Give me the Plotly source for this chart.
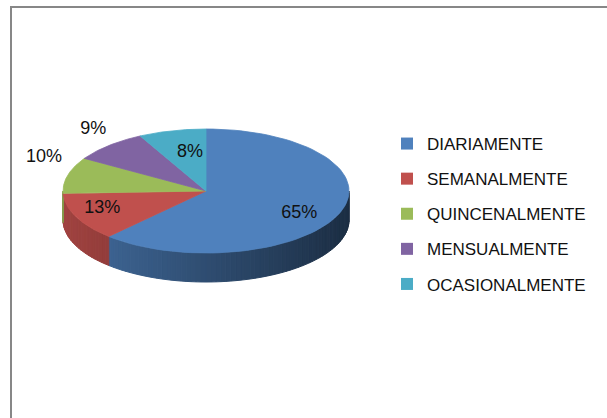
import numpy as np
import plotly.graph_objects as go

# ---- data ----
categories = ["DIARIAMENTE", "SEMANALMENTE", "QUINCENALMENTE", "MENSUALMENTE", "OCASIONALMENTE"]
values = [65, 13, 10, 9, 8]          # shown as percentages
labels = ["65%", "13%", "10%", "9%", "8%"]

# ---- style ----
colors = ["#4f81bd", "#c0504d", "#9bbb59", "#8064a2", "#4bacc6"]
W, H = 607, 418
cx, cy, rx, ry, depth = 206, 191, 143, 62, 29
label_r = [0.70, 0.80, 1.17, 1.16, 0.47]
label_dy = [7, -3, -15, -9, -10]
FONT = "Liberation Sans"


def hex_rgb(h):
    h = h.lstrip("#")
    return tuple(int(h[i:i + 2], 16) for i in (0, 2, 4))


def shade(h, f):
    r, g, b = hex_rgb(h)
    return "rgb(%d,%d,%d)" % (r * f, g * f, b * f)


def pt(theta_deg, r=1.0, dz=0.0):
    t = np.radians(theta_deg)
    return cx + rx * r * np.sin(t), cy - ry * r * np.cos(t) + dz


total = float(sum(values))
bounds = np.concatenate([[0], np.cumsum(values)]) / total * 360.0

fig = go.Figure()

# side walls (front half only: theta in [90, 270])
step = 2.0
for i, c in enumerate(colors):
    a1, a2 = max(bounds[i], 90), min(bounds[i + 1], 270)
    if a2 <= a1:
        continue
    edges = np.arange(a1, a2, step).tolist() + [a2]
    for s, e in zip(edges[:-1], edges[1:]):
        ts = np.linspace(s, e, 4)
        xt, yt = pt(ts)
        xb, yb = pt(ts[::-1], dz=depth)
        mid = np.radians((s + e) / 2)
        f = 0.60 - 0.24 * np.sin(mid)
        col = shade(c, f)
        fig.add_trace(go.Scatter(
            x=np.concatenate([xt, xb, xt[:1]]), y=np.concatenate([yt, yb, yt[:1]]),
            mode="lines", fill="toself", fillcolor=col,
            line=dict(color=col, width=1), hoverinfo="skip", showlegend=False))

# top faces
for i, c in enumerate(colors):
    ts = np.linspace(bounds[i], bounds[i + 1], 80)
    xa, ya = pt(ts)
    fig.add_trace(go.Scatter(
        x=np.concatenate([[cx], xa, [cx]]), y=np.concatenate([[cy], ya, [cy]]),
        mode="lines", fill="toself", fillcolor=c,
        line=dict(color=c, width=0.8), hoverinfo="skip", showlegend=False))

# data labels
mids = (bounds[:-1] + bounds[1:]) / 2
lx, ly = [], []
for i, m in enumerate(mids):
    x, y = pt(m, r=label_r[i])
    lx.append(x)
    ly.append(y + label_dy[i])
fig.add_trace(go.Scatter(x=lx, y=ly, mode="text", text=labels,
                         textfont=dict(family=FONT, size=18, color="#111111"),
                         hoverinfo="skip", showlegend=False))

# legend entries
for i, (name, c) in enumerate(zip(categories, colors)):
    fig.add_trace(go.Scatter(x=[None], y=[None], mode="markers", name=name,
                             legendgroup="g%d" % i,
                             marker=dict(symbol="square", size=12, color=c)))

fig.add_shape(type="rect", x0=11, y0=7, x1=W + 20, y1=H + 20,
              line=dict(color="#878787", width=2), fillcolor="rgba(0,0,0,0)", layer="below")

fig.update_layout(
    width=W, height=H, margin=dict(l=0, r=0, t=0, b=0),
    paper_bgcolor="white", plot_bgcolor="white",
    xaxis=dict(range=[0, W], visible=False, fixedrange=True),
    yaxis=dict(range=[H, 0], visible=False, fixedrange=True),
    showlegend=True,
    legend=dict(x=387 / W, y=1 - 126 / H, xanchor="left", yanchor="top",
                traceorder="grouped", tracegroupgap=10,
                font=dict(family=FONT, size=17, color="#111111"),
                bgcolor="rgba(0,0,0,0)"),
)

fig.write_html("out.html")
